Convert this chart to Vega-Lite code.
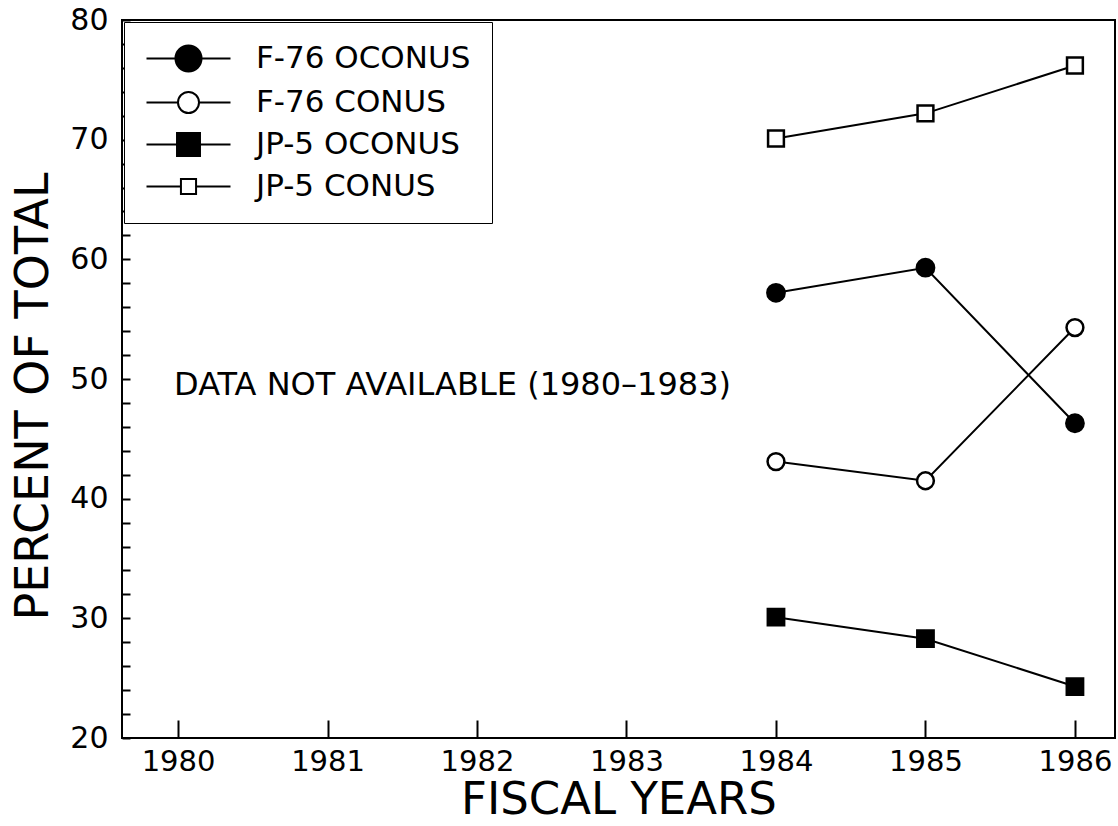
{
  "$schema": "https://vega.github.io/schema/vega-lite/v6.json",
  "width": 993,
  "height": 718,
  "autosize": {"type": "none"},
  "padding": {"left": 122, "top": 20, "right": 3, "bottom": 88},
  "background": "white",
  "config": {
    "view": {"stroke": "black", "strokeWidth": 2},
    "font": "DejaVu Sans",
    "axis": {
      "labelColor": "black", "tickColor": "black", "titleColor": "black",
      "labelFont": "DejaVu Sans", "titleFont": "DejaVu Sans",
      "grid": false, "domain": false, "tickWidth": 2,
      "titleFontWeight": "normal", "labelFlush": false, "labelOverlap": false
    }
  },
  "data": {
    "values": [
      {"series": "F-76 OCONUS", "year": 1984, "value": 57.2},
      {"series": "F-76 OCONUS", "year": 1985, "value": 59.3},
      {"series": "F-76 OCONUS", "year": 1986, "value": 46.3},
      {"series": "F-76 CONUS", "year": 1984, "value": 43.1},
      {"series": "F-76 CONUS", "year": 1985, "value": 41.5},
      {"series": "F-76 CONUS", "year": 1986, "value": 54.3},
      {"series": "JP-5 OCONUS", "year": 1984, "value": 30.1},
      {"series": "JP-5 OCONUS", "year": 1985, "value": 28.3},
      {"series": "JP-5 OCONUS", "year": 1986, "value": 24.3},
      {"series": "JP-5 CONUS", "year": 1984, "value": 70.1},
      {"series": "JP-5 CONUS", "year": 1985, "value": 72.2},
      {"series": "JP-5 CONUS", "year": 1986, "value": 76.2}
    ]
  },
  "resolve": {"scale": {"shape": "independent", "fill": "independent", "size": "independent", "stroke": "independent"}},
  "layer": [
    {
      "mark": {"type": "line", "stroke": "black", "strokeWidth": 2},
      "encoding": {
        "x": {
          "field": "year", "type": "quantitative",
          "scale": {"domain": [1979.625, 1986.268], "nice": false, "zero": false},
          "axis": {
            "values": [1980, 1981, 1982, 1983, 1984, 1985, 1986],
            "format": "d", "tickSize": -18, "labelPadding": 27, "labelFontSize": 29,
            "labelOverlap": false,
            "title": "FISCAL YEARS", "titleFontSize": 45, "titlePadding": 1
          }
        },
        "y": {
          "field": "value", "type": "quantitative",
          "scale": {"domain": [20, 80], "nice": false, "zero": false},
          "axis": {
            "values": [20,22,24,26,28,30,32,34,36,38,40,42,44,46,48,50,52,54,56,58,60,62,64,66,68,70,72,74,76,78,80],
            "tickCount": 100, "format": "d",
            "tickSize": -8, "labelPadding": 22, "labelFontSize": 30,
            "labelOverlap": false,
            "labelExpr": "datum.value % 10 === 0 ? datum.label : ''",
            "encode": {"ticks": {"update": {"x2": {"condition": {"test": "datum.value % 10 === 0", "value": 15}, "value": 8}}}},
            "title": "PERCENT OF TOTAL", "titleFontSize": 46, "titlePadding": 12, "titleY": 376
          }
        },
        "detail": {"field": "series"}
      }
    },
    {
      "transform": [{"filter": "false"}],
      "mark": {"type": "point", "filled": false, "size": 784, "strokeWidth": 2, "opacity": 1},
      "encoding": {
        "x": {"field": "year", "type": "quantitative"},
        "y": {"field": "value", "type": "quantitative"},
        "shape": {
          "field": "series", "type": "nominal",
          "scale": {
            "domain": ["F-76 OCONUS", "F-76 CONUS", "JP-5 OCONUS", "JP-5 CONUS"],
            "range": [
              "M-3,0H-0.93M0.93,0H3M0.93,0A0.93,0.93 0 1,1 -0.93,0A0.93,0.93 0 1,1 0.93,0Z",
              "M-3,0H-0.75M0.75,0H3M0.75,0A0.75,0.75 0 1,1 -0.75,0A0.75,0.75 0 1,1 0.75,0Z",
              "M-3,0H-0.82M0.82,0H3M-0.82,-0.82H0.82V0.82H-0.82Z",
              "M-3,0H-0.54M0.54,0H3M-0.54,-0.54H0.54V0.54H-0.54Z"
            ]
          },
          "legend": {
            "orient": "none", "legendX": 2, "legendY": 2, "title": null,
            "strokeColor": "black", "fillColor": "white", "padding": 21,
            "labelFont": "DejaVu Sans", "labelFontSize": 31, "labelColor": "black", "labelLimit": 0,
            "labelOffset": 52, "rowPadding": 10, "symbolSize": 784, "symbolOffset": 28,
            "symbolStrokeColor": "black", "symbolStrokeWidth": 2, "symbolOpacity": 1
          }
        },
        "fill": {
          "field": "series", "type": "nominal",
          "scale": {"domain": ["F-76 OCONUS", "F-76 CONUS", "JP-5 OCONUS", "JP-5 CONUS"], "range": ["black", "white", "black", "white"]}
        },
        "stroke": {
          "field": "series", "type": "nominal",
          "scale": {"domain": ["F-76 OCONUS", "F-76 CONUS", "JP-5 OCONUS", "JP-5 CONUS"], "range": ["black", "black", "black", "black"]}
        }
      }
    },
    {
      "mark": {"type": "point", "filled": true, "stroke": "black", "strokeWidth": 2.5, "opacity": 1},
      "encoding": {
        "x": {"field": "year", "type": "quantitative"},
        "y": {"field": "value", "type": "quantitative"},
        "fill": {
          "field": "series", "type": "nominal",
          "scale": {"domain": ["F-76 OCONUS", "F-76 CONUS", "JP-5 OCONUS", "JP-5 CONUS"], "range": ["black", "white", "black", "white"]},
          "legend": null
        },
        "shape": {
          "field": "series", "type": "nominal",
          "scale": {"domain": ["F-76 OCONUS", "F-76 CONUS", "JP-5 OCONUS", "JP-5 CONUS"], "range": ["circle", "circle", "square", "square"]},
          "legend": null
        },
        "size": {
          "field": "series", "type": "nominal",
          "scale": {"domain": ["F-76 OCONUS", "F-76 CONUS", "JP-5 OCONUS", "JP-5 CONUS"], "range": [300, 250, 220, 180]},
          "legend": null
        }
      }
    },
    {
      "data": {"values": [{"note": "DATA NOT AVAILABLE (1980–1983)"}]},
      "mark": {"type": "text", "align": "left", "baseline": "middle", "fontSize": 32, "font": "DejaVu Sans", "color": "black", "dx": -4},
      "encoding": {
        "x": {"datum": 1980, "type": "quantitative"},
        "y": {"datum": 49.5, "type": "quantitative"},
        "text": {"field": "note"}
      }
    }
  ]
}
